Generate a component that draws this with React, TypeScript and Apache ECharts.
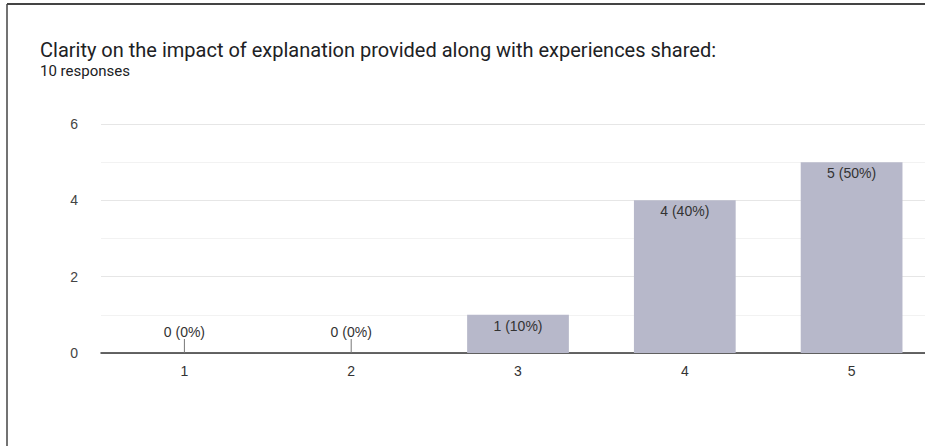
import React, { useEffect, useRef } from "react";
import * as echarts from "echarts";

const categories = ["1", "2", "3", "4", "5"];
const counts = [0, 0, 1, 4, 5];
const percents = [0, 0, 10, 40, 50];
const yTicks = [0, 2, 4, 6];

const titleText = "Clarity on the impact of explanation provided along with experiences shared:";
const subtitleText = "10 responses";

const W = 940;
const H = 446;

export default function App() {
  const ref = useRef<HTMLDivElement>(null);
  useEffect(() => {
    if (!ref.current) return;
    const chart = echarts.init(ref.current, null, { renderer: "svg" });
    const labels = counts.map((c, i) => `${c} (${percents[i]}%)`);
    chart.setOption({
      animation: false,
      backgroundColor: "#ffffff",
      title: {
        text: titleText,
        subtext: subtitleText,
        left: 35,
        top: 35,
        itemGap: 3,
        textStyle: { fontFamily: "Roboto", fontSize: 20, fontWeight: "normal", color: "#202124" },
        subtextStyle: { fontFamily: "Roboto", fontSize: 15, color: "#202124" },
      },
      graphic: [
        { type: "line", shape: { x1: 7, y1: 4, x2: W, y2: 4 }, style: { stroke: "#444", lineWidth: 2 } },
        { type: "line", shape: { x1: 7, y1: 4, x2: 7, y2: H }, style: { stroke: "#444", lineWidth: 1.5 } },
      ],
      grid: { left: 101, right: W - 935, top: 124, bottom: H - 353 },
      xAxis: {
        type: "category",
        data: categories,
        axisLine: { lineStyle: { color: "#333", width: 1.5 } },
        axisTick: { show: false },
        axisLabel: { color: "#333", fontSize: 14, fontFamily: "Liberation Sans", margin: 11 },
      },
      yAxis: {
        type: "value",
        min: yTicks[0],
        max: yTicks[yTicks.length - 1],
        interval: 2,
        axisLabel: { color: "#444", fontSize: 14, fontFamily: "Liberation Sans", margin: 23 },
        splitLine: { lineStyle: { color: "#e6e6e6", width: 1 } },
        minorTick: { show: false, splitNumber: 2 },
        minorSplitLine: { show: true, lineStyle: { color: "#f2f2f2", width: 1 } },
      },
      series: [
        {
          type: "bar",
          data: counts,
          barWidth: "61%",
          itemStyle: { color: "#b7b8ca" },
          label: {
            show: true,
            position: "insideTop",
            distance: 4,
            color: "#333",
            fontSize: 14,
            fontFamily: "Liberation Sans",
            formatter: (p: any) => (p.value > 0 ? labels[p.dataIndex] : ""),
          },
        },
        {
          type: "custom",
          data: counts.map((c, i) => [i, c]),
          renderItem: (params: any, api: any) => {
            const v = api.value(1);
            if (v !== 0) return null;
            const pt = api.coord([api.value(0), 0]);
            return {
              type: "group",
              children: [
                { type: "line", shape: { x1: pt[0], y1: pt[1], x2: pt[0], y2: pt[1] - 14 }, style: { stroke: "#777", lineWidth: 1 } },
                {
                  type: "text",
                  x: pt[0],
                  y: pt[1] - 21,
                  style: {
                    text: labels[params.dataIndex],
                    fill: "#333",
                    font: "14px 'Liberation Sans'",
                    align: "center",
                    verticalAlign: "middle",
                  },
                },
              ],
            };
          },
          z: 5,
        },
      ],
    });
    return () => chart.dispose();
  }, []);
  return (
    <div
      ref={ref}
      style={{ position: "fixed", left: 0, top: 0, width: W, height: H }}
    />
  );
}
